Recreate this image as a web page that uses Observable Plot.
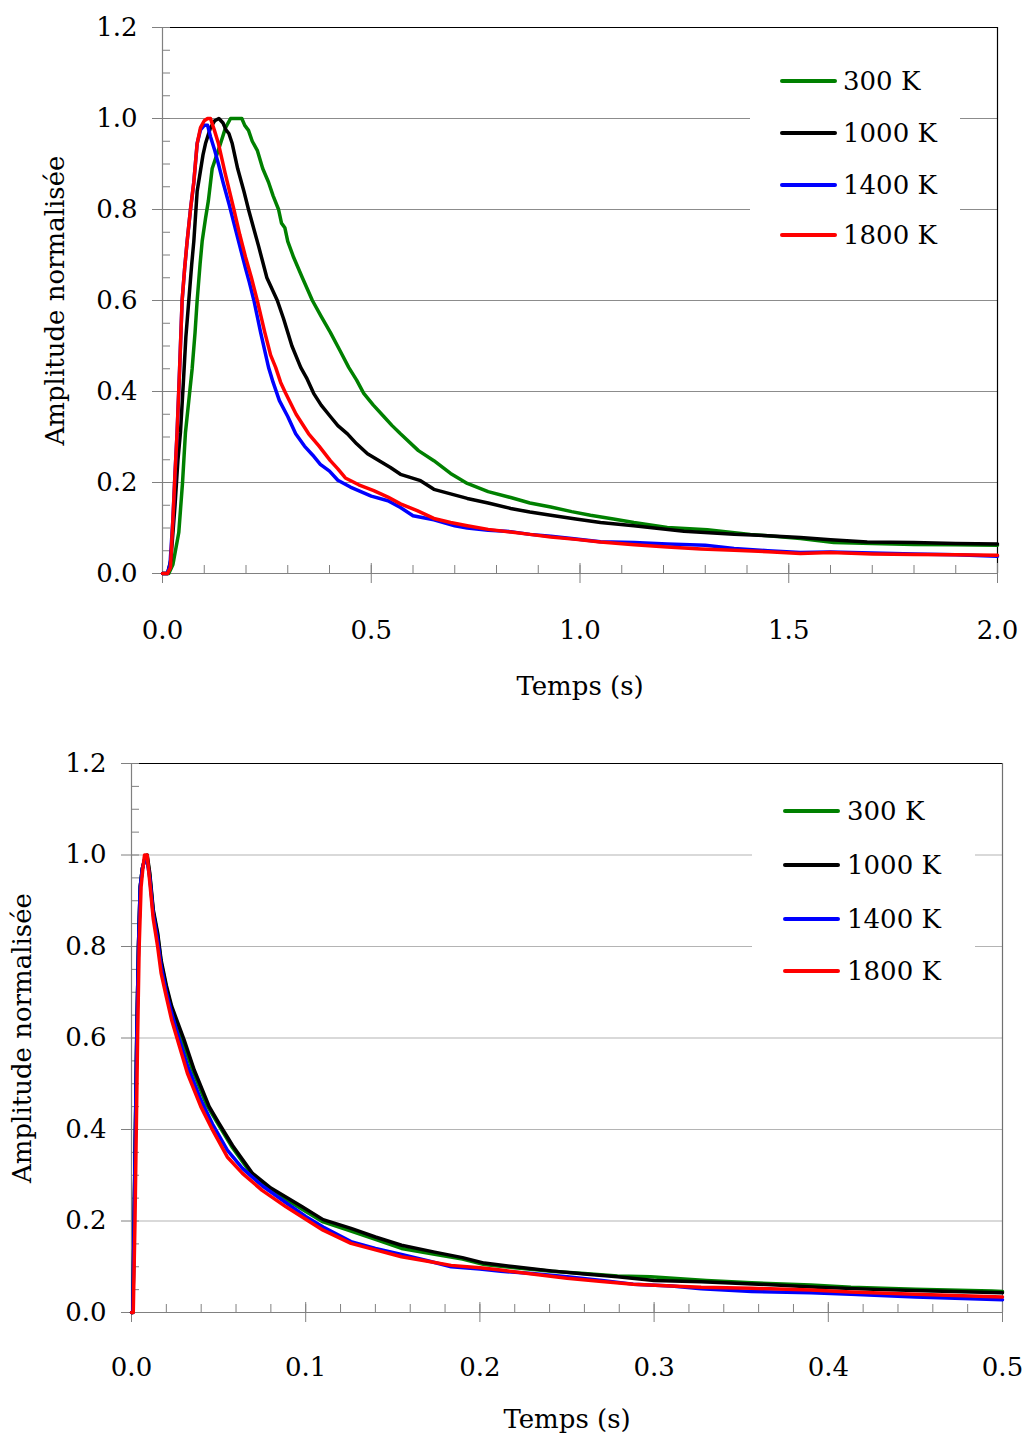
<!DOCTYPE html>
<html>
<head>
<meta charset="utf-8">
<script src="https://cdn.jsdelivr.net/npm/d3@7"></script>
<script src="https://cdn.jsdelivr.net/npm/@observablehq/plot@0.6"></script>
<style>
  html, body { margin: 0; padding: 0; background: #fff; }
  #page { position: relative; width: 1023px; height: 1437px; overflow: hidden; font-family: "DejaVu Serif", serif; }
  .chart { position: absolute; left: 0; }
  .legend { position: absolute; background: #fff; }
  .swatch { position: absolute; width: 57px; height: 4px; border-radius: 2px; transform: translateY(-50%); }
  .lab { position: absolute; font-size: 26px; line-height: 30px; transform: translateY(-50%); white-space: nowrap; color: #000; }
</style>
</head>
<body>
<div id="page">
  <div id="top" class="chart" style="top:0px"></div>
  <div id="bottom" class="chart" style="top:720px"></div>
</div>
<script>
// ---------- Data ----------
const seriesNames = ["300 K", "1000 K", "1400 K", "1800 K"];
const seriesColors = ["#008000", "#000000", "#0000ff", "#ff0000"];

// Top chart: time 0–2 s, [t, amplitude]
const top300 = [[0,0],[0.015,0],[0.025,0.02],[0.039,0.09],[0.048,0.2],[0.055,0.31],[0.063,0.38],[0.071,0.45],[0.078,0.53],[0.083,0.60],[0.09,0.68],[0.095,0.73],[0.103,0.78],[0.11,0.82],[0.119,0.89],[0.13,0.92],[0.139,0.945],[0.151,0.98],[0.163,1.0],[0.19,1.0],[0.197,0.985],[0.206,0.974],[0.215,0.95],[0.227,0.93],[0.24,0.89],[0.254,0.86],[0.265,0.83],[0.278,0.80],[0.285,0.77],[0.293,0.76],[0.3,0.73],[0.314,0.695],[0.335,0.65],[0.359,0.60],[0.38,0.565],[0.402,0.53],[0.425,0.49],[0.446,0.453],[0.465,0.425],[0.482,0.396],[0.505,0.37],[0.53,0.345],[0.55,0.325],[0.57,0.307],[0.613,0.27],[0.65,0.248],[0.69,0.22],[0.73,0.198],[0.78,0.18],[0.834,0.167],[0.88,0.155],[0.93,0.146],[0.98,0.136],[1.025,0.128],[1.08,0.12],[1.129,0.112],[1.209,0.101],[1.305,0.096],[1.408,0.086],[1.528,0.077],[1.608,0.068],[1.7,0.066],[1.8,0.064],[1.9,0.063],[2.0,0.062]];
const top1000 = [[0,0],[0.012,0],[0.02,0.03],[0.03,0.15],[0.037,0.25],[0.043,0.31],[0.05,0.42],[0.056,0.52],[0.063,0.60],[0.07,0.68],[0.075,0.73],[0.083,0.84],[0.09,0.88],[0.097,0.92],[0.103,0.945],[0.115,0.98],[0.125,0.995],[0.135,1.0],[0.145,0.99],[0.152,0.975],[0.159,0.967],[0.167,0.945],[0.18,0.89],[0.195,0.84],[0.206,0.80],[0.218,0.76],[0.23,0.72],[0.25,0.65],[0.275,0.60],[0.29,0.56],[0.31,0.5],[0.331,0.453],[0.345,0.43],[0.362,0.396],[0.38,0.37],[0.402,0.345],[0.42,0.325],[0.443,0.307],[0.465,0.285],[0.491,0.263],[0.52,0.247],[0.546,0.233],[0.57,0.218],[0.618,0.204],[0.65,0.185],[0.69,0.175],[0.73,0.165],[0.78,0.155],[0.834,0.143],[0.88,0.135],[0.93,0.128],[0.99,0.12],[1.049,0.112],[1.129,0.105],[1.249,0.093],[1.369,0.086],[1.45,0.083],[1.528,0.079],[1.6,0.074],[1.688,0.069],[1.8,0.068],[1.9,0.066],[2.0,0.065]];
const top1400 = [[0,0],[0.012,0],[0.018,0.02],[0.025,0.12],[0.03,0.22],[0.035,0.31],[0.041,0.45],[0.047,0.60],[0.053,0.67],[0.059,0.73],[0.067,0.80],[0.075,0.86],[0.083,0.945],[0.091,0.975],[0.1,0.985],[0.108,0.985],[0.115,0.96],[0.125,0.93],[0.134,0.90],[0.145,0.86],[0.16,0.81],[0.171,0.77],[0.185,0.72],[0.199,0.67],[0.208,0.64],[0.219,0.60],[0.235,0.53],[0.254,0.453],[0.265,0.42],[0.28,0.38],[0.3,0.345],[0.319,0.307],[0.34,0.28],[0.36,0.26],[0.378,0.24],[0.4,0.225],[0.42,0.205],[0.45,0.19],[0.5,0.17],[0.54,0.16],[0.57,0.145],[0.6,0.127],[0.65,0.118],[0.7,0.105],[0.73,0.1],[0.78,0.095],[0.834,0.092],[0.88,0.086],[0.93,0.082],[0.98,0.077],[1.049,0.07],[1.13,0.068],[1.209,0.065],[1.3,0.062],[1.369,0.055],[1.45,0.05],[1.528,0.046],[1.6,0.047],[1.7,0.045],[1.8,0.043],[1.9,0.041],[2.0,0.038]];
const top1800 = [[0,0],[0.012,0],[0.019,0.013],[0.025,0.12],[0.03,0.22],[0.035,0.31],[0.041,0.45],[0.047,0.60],[0.053,0.67],[0.059,0.73],[0.067,0.80],[0.075,0.86],[0.083,0.945],[0.091,0.98],[0.1,0.995],[0.108,1.0],[0.115,1.0],[0.124,0.975],[0.134,0.945],[0.15,0.88],[0.171,0.80],[0.185,0.745],[0.199,0.695],[0.213,0.65],[0.227,0.60],[0.245,0.53],[0.259,0.48],[0.271,0.453],[0.283,0.42],[0.295,0.396],[0.32,0.35],[0.35,0.307],[0.375,0.28],[0.402,0.248],[0.42,0.23],[0.438,0.21],[0.47,0.195],[0.506,0.182],[0.54,0.168],[0.57,0.153],[0.61,0.138],[0.65,0.121],[0.69,0.112],[0.73,0.105],[0.78,0.097],[0.834,0.091],[0.88,0.086],[0.93,0.08],[0.99,0.075],[1.049,0.069],[1.13,0.063],[1.209,0.058],[1.29,0.054],[1.369,0.051],[1.45,0.048],[1.528,0.044],[1.6,0.046],[1.7,0.043],[1.8,0.042],[1.9,0.041],[2.0,0.04]];

// Bottom chart: time 0–0.5 s, [t, amplitude]
const bot300 = [[0,0],[0.0008,0],[0.0015,0.2],[0.003,0.6],[0.004,0.8],[0.005,0.93],[0.0062,0.97],[0.0075,0.99],[0.009,0.995],[0.0105,0.955],[0.0125,0.875],[0.015,0.825],[0.017,0.765],[0.02,0.71],[0.023,0.665],[0.029,0.596],[0.035,0.53],[0.043,0.455],[0.05,0.41],[0.058,0.36],[0.068,0.307],[0.08,0.268],[0.097,0.228],[0.11,0.198],[0.126,0.178],[0.14,0.16],[0.155,0.14],[0.174,0.127],[0.19,0.117],[0.2025,0.105],[0.22,0.098],[0.241,0.09],[0.26,0.085],[0.279,0.08],[0.298,0.078],[0.33,0.07],[0.356,0.065],[0.39,0.06],[0.413,0.055],[0.45,0.051],[0.494,0.047],[0.5,0.046]];
const bot1000 = [[0,0],[0.0008,0],[0.0015,0.2],[0.003,0.6],[0.004,0.8],[0.005,0.93],[0.0062,0.97],[0.0075,0.99],[0.009,1.0],[0.0105,0.96],[0.0125,0.88],[0.015,0.83],[0.017,0.77],[0.02,0.715],[0.023,0.67],[0.0302,0.596],[0.036,0.53],[0.0446,0.45],[0.05,0.415],[0.058,0.365],[0.0695,0.304],[0.08,0.272],[0.098,0.231],[0.11,0.203],[0.126,0.184],[0.14,0.165],[0.155,0.147],[0.174,0.132],[0.19,0.12],[0.2025,0.108],[0.22,0.1],[0.241,0.091],[0.26,0.084],[0.279,0.078],[0.3,0.07],[0.327,0.067],[0.36,0.062],[0.394,0.055],[0.43,0.05],[0.46,0.047],[0.5,0.043]];
const bot1400 = [[0,0],[0.0008,0],[0.0015,0.2],[0.003,0.6],[0.004,0.8],[0.005,0.93],[0.0062,0.97],[0.0075,0.99],[0.0088,0.99],[0.0105,0.95],[0.0125,0.87],[0.015,0.815],[0.017,0.757],[0.02,0.70],[0.023,0.655],[0.0264,0.61],[0.0321,0.54],[0.0398,0.465],[0.0465,0.412],[0.055,0.355],[0.0637,0.315],[0.075,0.277],[0.0887,0.24],[0.1,0.21],[0.11,0.187],[0.126,0.155],[0.14,0.14],[0.155,0.127],[0.17,0.113],[0.1835,0.1],[0.2,0.095],[0.212,0.09],[0.23,0.085],[0.25,0.078],[0.27,0.07],[0.288,0.062],[0.31,0.058],[0.327,0.052],[0.356,0.046],[0.39,0.043],[0.413,0.04],[0.45,0.034],[0.5,0.028]];
const bot1800 = [[0,0],[0.001,0],[0.002,0.2],[0.0035,0.6],[0.0044,0.8],[0.0055,0.93],[0.0065,0.97],[0.0075,1.0],[0.009,1.0],[0.0105,0.94],[0.0125,0.86],[0.015,0.80],[0.017,0.742],[0.02,0.69],[0.023,0.64],[0.0264,0.596],[0.0321,0.523],[0.0398,0.45],[0.0465,0.399],[0.055,0.34],[0.0637,0.304],[0.075,0.267],[0.0887,0.231],[0.1,0.204],[0.11,0.18],[0.126,0.151],[0.14,0.137],[0.155,0.122],[0.17,0.112],[0.1835,0.103],[0.2,0.098],[0.212,0.093],[0.23,0.084],[0.25,0.075],[0.27,0.068],[0.288,0.062],[0.31,0.058],[0.327,0.055],[0.356,0.053],[0.39,0.049],[0.413,0.045],[0.45,0.04],[0.5,0.034]];

// Tick values
const yMajor = [0, 0.2, 0.4, 0.6, 0.8, 1.0, 1.2];
const yMinor = d3.range(0, 1.2001, 0.05).map(v => +v.toFixed(2));
const yGrid = [0.2, 0.4, 0.6, 0.8, 1.0];
const topXMajor = [0, 0.5, 1.0, 1.5, 2.0];
const topXMinor = d3.range(0, 2.0001, 0.1).map(v => +v.toFixed(2));
const botXMajor = [0, 0.1, 0.2, 0.3, 0.4, 0.5];
const botXMinor = d3.range(0, 0.5001, 0.02).map(v => +v.toFixed(2));
const xLabel = "Temps (s)";
const yLabel = "Amplitude normalisée";

function toRows(list) {
  const rows = [];
  list.forEach((arr, i) => arr.forEach(([t, v]) => rows.push({t, v, s: seriesNames[i]})));
  return rows;
}

function makeChart({rows, xMax, xMajor, xMinor, width, height, margins, gridColor, rightColor, xPad, yLabelOffset, xLabelOffset}) {
  const fmt = d3.format(".1f");
  const axisColor = "#808080";
  return Plot.plot({
    width, height,
    marginLeft: margins[0], marginRight: margins[1], marginTop: margins[2], marginBottom: margins[3],
    style: {fontFamily: "DejaVu Serif, serif", fontSize: "26px", color: "#000", background: "#fff", overflow: "visible"},
    x: {domain: [0, xMax], axis: null},
    y: {domain: [0, 1.2], axis: null},
    color: {domain: seriesNames, range: seriesColors},
    marks: [
      Plot.gridY(yGrid, {stroke: gridColor, strokeOpacity: 1, strokeWidth: 1.2}),
      Plot.ruleY([1.2], {stroke: "#000", strokeWidth: 1.2}),
      Plot.ruleX([xMax], {stroke: rightColor, strokeWidth: 1.2}),
      Plot.axisY(yMinor, {tickSize: -8, tickFormat: () => "", stroke: axisColor, label: null}),
      Plot.axisY(yMajor, {tickSize: 10, tickPadding: 15, tickFormat: fmt, stroke: axisColor, fill: "#000", fontSize: 26,
        label: yLabel, labelAnchor: "center", labelOffset: yLabelOffset, labelArrow: "none"}),
      Plot.axisX(xMinor, {tickSize: -8, tickFormat: () => "", stroke: axisColor, label: null}),
      Plot.axisX(xMajor, {tickSize: -10, tickFormat: () => "", stroke: axisColor, label: null}),
      Plot.axisX(xMajor, {tickSize: 10, tickPadding: xPad, tickFormat: fmt, stroke: axisColor, fill: "#000", fontSize: 26,
        label: xLabel, labelAnchor: "center", labelOffset: xLabelOffset, labelArrow: "none"}),
      Plot.ruleX([0], {stroke: axisColor, strokeWidth: 1.2}),
      Plot.ruleY([0], {stroke: axisColor, strokeWidth: 1.2}),
      Plot.line(rows, {x: "t", y: "v", z: "s", stroke: "s", strokeWidth: 3.5, strokeLinejoin: "round"})
    ]
  });
}

const topChart = makeChart({
  rows: toRows([top300, top1000, top1400, top1800]),
  xMax: 2.0, xMajor: topXMajor, xMinor: topXMinor,
  width: 1023, height: 720, margins: [162, 26, 27, 147],
  gridColor: "#8c8c8c", rightColor: "#000", xPad: 37, yLabelOffset: 117, xLabelOffset: 121
});
document.getElementById("top").appendChild(topChart);

const botChart = makeChart({
  rows: toRows([bot300, bot1000, bot1400, bot1800]),
  xMax: 0.5, xMajor: botXMajor, xMinor: botXMinor,
  width: 1023, height: 717, margins: [131, 21, 43, 125],
  gridColor: "#b4b4b4", rightColor: "#707070", xPad: 35, yLabelOffset: 119, xLabelOffset: 115
});
document.getElementById("bottom").appendChild(botChart);

// Legends (HTML overlays)
function addLegend(box, itemYs, lineX, textX) {
  const page = document.getElementById("page");
  const lg = document.createElement("div");
  lg.className = "legend";
  Object.assign(lg.style, {left: box[0] + "px", top: box[1] + "px", width: box[2] + "px", height: box[3] + "px"});
  seriesNames.forEach((name, i) => {
    const sw = document.createElement("div");
    sw.className = "swatch";
    Object.assign(sw.style, {left: (lineX - box[0]) + "px", top: (itemYs[i] - box[1]) + "px", background: seriesColors[i]});
    const tx = document.createElement("div");
    tx.className = "lab";
    tx.textContent = name;
    Object.assign(tx.style, {left: (textX - box[0]) + "px", top: (itemYs[i] - box[1]) + "px"});
    lg.appendChild(sw);
    lg.appendChild(tx);
  });
  page.appendChild(lg);
}
addLegend([750, 55, 210, 205], [81, 133, 185, 235], 780, 843);
addLegend([752, 790, 223, 205], [811, 865, 919, 971], 783, 847);
</script>
</body>
</html>
